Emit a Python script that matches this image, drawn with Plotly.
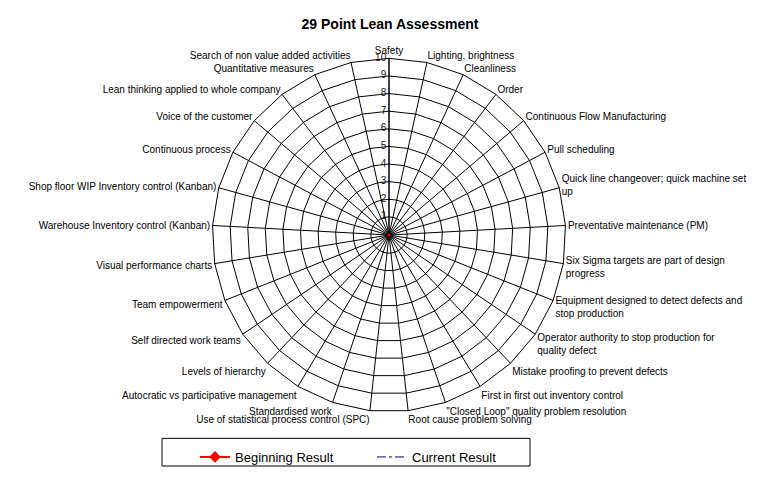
import plotly.graph_objects as go

categories = [
    "Safety",
    "Lighting, brightness",
    "Cleanliness",
    "Order",
    "Continuous Flow Manufacturing",
    "Pull scheduling",
    "Quick line changeover; quick machine set<br>up",
    "Preventative maintenance (PM)",
    "Six Sigma targets are part of design<br>progress",
    "Equipment designed to detect defects and<br>stop production",
    "Operator authority to stop production for<br>quality defect",
    "Mistake proofing to prevent defects",
    "First in first out inventory control",
    "\"Closed Loop\" quality problem resolution",
    "Root cause problem solving",
    "Use of statistical process control (SPC)",
    "Standardised work",
    "Autocratic vs participative management",
    "Levels of hierarchy",
    "Self directed work teams",
    "Team empowerment",
    "Visual performance charts",
    "Warehouse Inventory control (Kanban)",
    "Shop floor WIP Inventory control (Kanban)",
    "Continuous process",
    "Voice of the customer",
    "Lean thinking applied to whole company",
    "Quantitative measures",
    "Search of non value added activities",
]

beginning_result = [0] * 29
current_result = [0] * 29

radial_ticks = list(range(0, 11))

FONT = "Liberation Sans, Arial, sans-serif"

# the page body has a margin, so the figure is drawn a few px in from the corner
W, H = 761, 464
OX, OY = 8, 6


def px(x):
    return (x - OX) / W


def py(y):
    return 1 - (y - OY) / H


fig = go.Figure()

theta_closed = categories + categories[:1]

fig.add_trace(go.Scatterpolar(
    r=current_result + current_result[:1],
    theta=theta_closed,
    mode="lines",
    name="Current Result",
    line=dict(color="#000080", width=1, dash="dashdot"),
    legendrank=2,
))

fig.add_trace(go.Scatterpolar(
    r=beginning_result + beginning_result[:1],
    theta=theta_closed,
    mode="lines+markers",
    name="Beginning Result",
    line=dict(color="#FF0000", width=2),
    marker=dict(symbol="diamond", size=9, color="#FF0000"),
    legendrank=1,
))

# radial scale labels, sitting just left of the first spoke
fig.add_trace(go.Scatterpolar(
    r=radial_ticks,
    theta=[categories[0]] * len(radial_ticks),
    mode="text",
    text=[f"{t}\u00a0" for t in radial_ticks],
    textposition="middle left",
    textfont=dict(family=FONT, size=10, color="#111111"),
    cliponaxis=False,
    showlegend=False,
    hoverinfo="skip",
))

cx, cy, rad = 389, 236, 179

fig.update_layout(
    width=W,
    height=H,
    template="none",
    paper_bgcolor="white",
    plot_bgcolor="white",
    margin=dict(l=0, r=0, t=0, b=0),
    font=dict(family=FONT, size=10, color="black"),
    title=dict(
        text="<b>29 Point Lean Assessment</b>",
        x=px(390), xanchor="center",
        y=py(22), yanchor="middle",
        font=dict(family=FONT, size=14, color="black"),
    ),
    polar=dict(
        domain=dict(x=[px(cx - rad), px(cx + rad)], y=[py(cy + rad), py(cy - rad)]),
        bgcolor="white",
        gridshape="linear",
        angularaxis=dict(
            direction="clockwise",
            rotation=90,
            categoryorder="array",
            categoryarray=categories,
            layer="below traces",
            showline=True,
            linecolor="black",
            linewidth=1,
            showgrid=True,
            gridcolor="black",
            gridwidth=1,
            ticks="",
            tickfont=dict(family=FONT, size=10, color="black"),
        ),
        radialaxis=dict(
            # tiny negative start so points at 0 are still drawn at the hub
            range=[-0.03, 10],
            tickvals=radial_ticks,
            angle=90,
            layer="below traces",
            showticklabels=False,
            showline=True,
            linecolor="black",
            linewidth=1,
            showgrid=True,
            gridcolor="black",
            gridwidth=1,
            ticks="",
        ),
    ),
    showlegend=True,
    legend=dict(
        orientation="h",
        x=px(195), xanchor="left",
        y=py(446), yanchor="top",
        entrywidth=132,
        bgcolor="rgba(0,0,0,0)",
        borderwidth=0,
        font=dict(family=FONT, size=13, color="black"),
    ),
    shapes=[dict(
        type="rect", xref="paper", yref="paper",
        x0=px(162), x1=px(530),
        y0=py(470), y1=py(442),
        line=dict(color="black", width=1),
    )],
)

fig.write_html("out.html")
